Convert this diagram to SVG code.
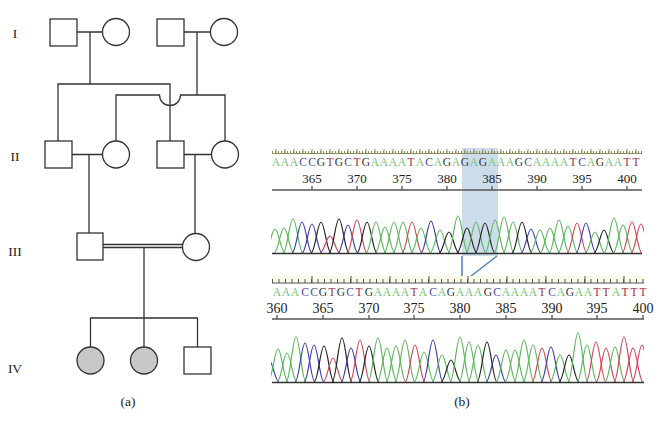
<svg xmlns="http://www.w3.org/2000/svg" xmlns:xlink="http://www.w3.org/1999/xlink" width="660" height="430" viewBox="0 0 660 430">
<style>
.n{fill:#fff;stroke:#333;stroke-width:1.3}
.aff{fill:#c8c8c8;stroke:#333;stroke-width:1.3}
.ln{fill:none;stroke:#333;stroke-width:1.3}
.lbl{font-family:"Liberation Serif",serif;font-size:13.5px;fill:#222;text-anchor:middle}
.seq{font-family:"Liberation Serif",serif;font-size:11.5px;text-anchor:middle}
.num{font-family:"Liberation Serif",serif;fill:#222;text-anchor:middle}
.a{fill:#74c274}.c{fill:#4b4ba0}.g{fill:#333}.t{fill:#a0304a}
use{stroke-width:1.2}
.pA{stroke:#5cb85c}.pC{stroke:#3c3cb4}.pG{stroke:#222}.pT{stroke:#d04858}
</style>
<defs>
<path id="pk" d="M-10,0 C-6,0 -3.5,-1 0,-1 S6,0 10,0" fill="none" vector-effect="non-scaling-stroke"/>
<clipPath id="cl"><rect x="271" y="190" width="373" height="200"/></clipPath>
</defs>
<rect width="660" height="430" fill="#fff"/>

<!-- Pedigree connectors -->
<g id="connectors" class="ln">
<path d="M77,32 H102.5 M90,32 V84"/>
<path d="M184,32 H210.5 M197,32 V95"/>
<path d="M58,141 V84 H170 V141"/>
<path d="M116,141 V95 H159.5 A10.5,10.5 0 0 0 180.5,95 H225 V141"/>
<path d="M72,154.5 H102.5 M89,154.5 V233"/>
<path d="M184,154.5 H211.5 M195,154.5 V233.5"/>
<path d="M103,244.5 H183 M103,247.5 H182.8 M144,247.5 V318"/>
<path d="M90.5,347 V318 H197.5 V347 M144,318 V347"/>
</g>

<!-- Pedigree nodes -->
<g id="I-1"><rect class="n" x="50" y="19" width="27" height="27"/></g>
<g id="I-2"><circle class="n" cx="116" cy="32" r="13.5"/></g>
<g id="I-3"><rect class="n" x="157" y="19" width="27" height="27"/></g>
<g id="I-4"><circle class="n" cx="224" cy="32" r="13.5"/></g>
<g id="II-1"><rect class="n" x="45" y="141" width="27" height="27"/></g>
<g id="II-2"><circle class="n" cx="116" cy="154.5" r="13.5"/></g>
<g id="II-3"><rect class="n" x="157" y="141" width="27" height="27"/></g>
<g id="II-4"><circle class="n" cx="225" cy="154.5" r="13.5"/></g>
<g id="III-1"><rect class="n" x="77" y="233" width="26" height="27"/></g>
<g id="III-2"><circle class="n" cx="196" cy="247" r="13.5"/></g>
<g id="IV-1"><circle class="aff" cx="90.5" cy="360.5" r="13.5"/></g>
<g id="IV-2"><circle class="aff" cx="144" cy="360.5" r="13.5"/></g>
<g id="IV-3"><rect class="n" x="184" y="347" width="27" height="27"/></g>

<g id="gen-labels" class="lbl">
<text x="15" y="38">I</text>
<text x="15" y="161">II</text>
<text x="15" y="256">III</text>
<text x="15" y="373">IV</text>
<text x="128" y="406">(a)</text>
<text x="462" y="406">(b)</text>
</g>

<!-- Panel b -->
<g id="panel-b">
<rect x="462" y="148" width="36" height="108" fill="#b7cde3" fill-opacity="0.7"/>

<!-- top ruler -->
<line x1="272" y1="153.5" x2="642" y2="153.5" stroke="#8c8c5a" stroke-width="1"/>
<line x1="272" y1="152" x2="642" y2="152" stroke="#8c8c5a" stroke-width="2" stroke-dasharray="1 2"/>
<line x1="275.5" y1="151" x2="642" y2="151" stroke="#8c8c5a" stroke-width="4" stroke-dasharray="1 8"/>

<text class="seq" y="166"><tspan class="a" x="276 285 294">AAA</tspan><tspan class="c" x="303 312">CC</tspan><tspan class="g" x="321">G</tspan><tspan class="t" x="330">T</tspan><tspan class="g" x="339">G</tspan><tspan class="c" x="348">C</tspan><tspan class="t" x="357">T</tspan><tspan class="g" x="366">G</tspan><tspan class="a" x="375 384 393 402">AAAA</tspan><tspan class="t" x="411">T</tspan><tspan class="a" x="420">A</tspan><tspan class="c" x="429">C</tspan><tspan class="a" x="438">A</tspan><tspan class="g" x="447">G</tspan><tspan class="a" x="456">A</tspan><tspan class="g" x="465">G</tspan><tspan class="a" x="474">A</tspan><tspan class="g" x="483">G</tspan><tspan class="a" x="492 501 510">AAA</tspan><tspan class="g" x="519">G</tspan><tspan class="c" x="528">C</tspan><tspan class="a" x="537 546 555 564">AAAA</tspan><tspan class="t" x="573">T</tspan><tspan class="c" x="582">C</tspan><tspan class="a" x="591">A</tspan><tspan class="g" x="600">G</tspan><tspan class="a" x="609 618">AA</tspan><tspan class="t" x="627 636">TT</tspan></text>

<g class="num" font-size="13">
<text x="312" y="183">365</text><text x="357" y="183">370</text><text x="402" y="183">375</text><text x="447" y="183">380</text><text x="492" y="183">385</text><text x="537" y="183">390</text><text x="582" y="183">395</text><text x="627" y="183">400</text>
</g>
<path d="M272,190 H642 M312,186 V190 M357,186 V190 M402,186 V190 M447,186 V190 M492,186 V190 M537,186 V190 M582,186 V190 M627,186 V190" fill="none" stroke="#555" stroke-width="1.3"/>

<!-- top trace -->
<g clip-path="url(#cl)">
<use href="#pk" class="pA" transform="translate(275 253) scale(1 24)"/>
<use href="#pk" class="pA" transform="translate(284 253) scale(1 25)"/>
<use href="#pk" class="pA" transform="translate(293 253) scale(1 34)"/>
<use href="#pk" class="pC" transform="translate(302 253) scale(1 31)"/>
<use href="#pk" class="pC" transform="translate(312 253) scale(1 29)"/>
<use href="#pk" class="pG" transform="translate(321 253) scale(1 31)"/>
<use href="#pk" class="pT" transform="translate(330 253) scale(1 17)"/>
<use href="#pk" class="pG" transform="translate(339 253) scale(1 34)"/>
<use href="#pk" class="pC" transform="translate(348 253) scale(1 28)"/>
<use href="#pk" class="pT" transform="translate(357 253) scale(1 33)"/>
<use href="#pk" class="pG" transform="translate(367 253) scale(1 31)"/>
<use href="#pk" class="pA" transform="translate(376 253) scale(1 31)"/>
<use href="#pk" class="pA" transform="translate(385 253) scale(1 26)"/>
<use href="#pk" class="pA" transform="translate(394 253) scale(1 31)"/>
<use href="#pk" class="pA" transform="translate(403 253) scale(1 31)"/>
<use href="#pk" class="pT" transform="translate(412 253) scale(1 31)"/>
<use href="#pk" class="pA" transform="translate(421 253) scale(1 25)"/>
<use href="#pk" class="pC" transform="translate(431 253) scale(1 32)"/>
<use href="#pk" class="pA" transform="translate(440 253) scale(1 23)"/>
<use href="#pk" class="pG" transform="translate(449 253) scale(1 21)"/>
<use href="#pk" class="pA" transform="translate(458 253) scale(1 37)"/>
<use href="#pk" class="pG" transform="translate(467 253) scale(1 25)"/>
<use href="#pk" class="pA" transform="translate(476 253) scale(1 31)"/>
<use href="#pk" class="pG" transform="translate(485 253) scale(1 30)"/>
<use href="#pk" class="pA" transform="translate(495 253) scale(1 33)"/>
<use href="#pk" class="pA" transform="translate(504 253) scale(1 36)"/>
<use href="#pk" class="pA" transform="translate(513 253) scale(1 31)"/>
<use href="#pk" class="pG" transform="translate(522 253) scale(1 31)"/>
<use href="#pk" class="pC" transform="translate(531 253) scale(1 24)"/>
<use href="#pk" class="pA" transform="translate(540 253) scale(1 23)"/>
<use href="#pk" class="pA" transform="translate(550 253) scale(1 25)"/>
<use href="#pk" class="pA" transform="translate(559 253) scale(1 33)"/>
<use href="#pk" class="pA" transform="translate(568 253) scale(1 27)"/>
<use href="#pk" class="pT" transform="translate(577 253) scale(1 30)"/>
<use href="#pk" class="pC" transform="translate(586 253) scale(1 30)"/>
<use href="#pk" class="pA" transform="translate(595 253) scale(1 21)"/>
<use href="#pk" class="pG" transform="translate(604 253) scale(1 23)"/>
<use href="#pk" class="pA" transform="translate(614 253) scale(1 35)"/>
<use href="#pk" class="pA" transform="translate(623 253) scale(1 28)"/>
<use href="#pk" class="pT" transform="translate(632 253) scale(1 31)"/>
<use href="#pk" class="pT" transform="translate(641 253) scale(1 29)"/>
</g>
<line x1="272" y1="253.5" x2="642" y2="253.5" stroke="#333" stroke-width="1.6"/>

<!-- deletion connector -->
<path d="M462,256 V283 M497,256 L462,283" fill="none" stroke="#4a7fc0" stroke-width="1.5"/>

<!-- bottom ruler -->
<rect x="272" y="276" width="372" height="7" fill="#fcfae8"/>
<line x1="272" y1="283" x2="644" y2="283" stroke="#555" stroke-width="1"/>
<line x1="272" y1="281" x2="644" y2="281" stroke="#555" stroke-width="4" stroke-dasharray="1 5.5"/>
<line x1="311.5" y1="279.5" x2="644" y2="279.5" stroke="#555" stroke-width="7" stroke-dasharray="1 38"/>

<text class="seq" y="296"><tspan class="a" x="277 286 295">AAA</tspan><tspan class="c" x="305 314">CC</tspan><tspan class="g" x="323">G</tspan><tspan class="t" x="332">T</tspan><tspan class="g" x="341">G</tspan><tspan class="c" x="350">C</tspan><tspan class="t" x="359">T</tspan><tspan class="g" x="369">G</tspan><tspan class="a" x="378 387 396 405">AAAA</tspan><tspan class="t" x="414">T</tspan><tspan class="a" x="423">A</tspan><tspan class="c" x="433">C</tspan><tspan class="a" x="442">A</tspan><tspan class="g" x="451">G</tspan><tspan class="a" x="460 469 478">AAA</tspan><tspan class="g" x="488">G</tspan><tspan class="c" x="497">C</tspan><tspan class="a" x="506 515 524 533">AAAA</tspan><tspan class="t" x="542">T</tspan><tspan class="c" x="552">C</tspan><tspan class="a" x="561">A</tspan><tspan class="g" x="570">G</tspan><tspan class="a" x="579 588">AA</tspan><tspan class="t" x="597 606">TT</tspan><tspan class="a" x="616">A</tspan><tspan class="t" x="625 634 643">TTT</tspan></text>

<g class="num" font-size="14">
<text x="277" y="313">360</text><text x="323" y="313">365</text><text x="369" y="313">370</text><text x="414" y="313">375</text><text x="460" y="313">380</text><text x="506" y="313">385</text><text x="552" y="313">390</text><text x="597" y="313">395</text><text x="643" y="313">400</text>
</g>
<path d="M272,319 H644 M277,315 V319 M323,315 V319 M369,315 V319 M414,315 V319 M460,315 V319 M506,315 V319 M552,315 V319 M597,315 V319 M643,315 V319" fill="none" stroke="#555" stroke-width="1.3"/>

<!-- bottom trace -->
<g clip-path="url(#cl)">
<use href="#pk" class="pC" transform="translate(269 382) scale(1 22)"/>
<use href="#pk" class="pA" transform="translate(278 382) scale(1 33)"/>
<use href="#pk" class="pA" transform="translate(287 382) scale(1 29)"/>
<use href="#pk" class="pA" transform="translate(296 382) scale(1 45)"/>
<use href="#pk" class="pC" transform="translate(305 382) scale(1 39)"/>
<use href="#pk" class="pC" transform="translate(314 382) scale(1 37)"/>
<use href="#pk" class="pG" transform="translate(324 382) scale(1 36)"/>
<use href="#pk" class="pT" transform="translate(333 382) scale(1 24)"/>
<use href="#pk" class="pG" transform="translate(342 382) scale(1 44)"/>
<use href="#pk" class="pC" transform="translate(351 382) scale(1 34)"/>
<use href="#pk" class="pT" transform="translate(360 382) scale(1 42)"/>
<use href="#pk" class="pG" transform="translate(369 382) scale(1 36)"/>
<use href="#pk" class="pA" transform="translate(378 382) scale(1 44)"/>
<use href="#pk" class="pA" transform="translate(387 382) scale(1 34)"/>
<use href="#pk" class="pA" transform="translate(396 382) scale(1 36)"/>
<use href="#pk" class="pA" transform="translate(405 382) scale(1 42)"/>
<use href="#pk" class="pT" transform="translate(415 382) scale(1 37)"/>
<use href="#pk" class="pA" transform="translate(424 382) scale(1 30)"/>
<use href="#pk" class="pC" transform="translate(433 382) scale(1 42)"/>
<use href="#pk" class="pA" transform="translate(442 382) scale(1 27)"/>
<use href="#pk" class="pG" transform="translate(451 382) scale(1 22)"/>
<use href="#pk" class="pA" transform="translate(460 382) scale(1 45)"/>
<use href="#pk" class="pA" transform="translate(469 382) scale(1 40)"/>
<use href="#pk" class="pA" transform="translate(478 382) scale(1 37)"/>
<use href="#pk" class="pG" transform="translate(487 382) scale(1 40)"/>
<use href="#pk" class="pC" transform="translate(496 382) scale(1 27)"/>
<use href="#pk" class="pA" transform="translate(506 382) scale(1 32)"/>
<use href="#pk" class="pA" transform="translate(515 382) scale(1 32)"/>
<use href="#pk" class="pA" transform="translate(524 382) scale(1 42)"/>
<use href="#pk" class="pA" transform="translate(533 382) scale(1 37)"/>
<use href="#pk" class="pT" transform="translate(542 382) scale(1 34)"/>
<use href="#pk" class="pC" transform="translate(551 382) scale(1 35)"/>
<use href="#pk" class="pA" transform="translate(560 382) scale(1 27)"/>
<use href="#pk" class="pG" transform="translate(569 382) scale(1 27)"/>
<use href="#pk" class="pA" transform="translate(578 382) scale(1 49)"/>
<use href="#pk" class="pA" transform="translate(587 382) scale(1 37)"/>
<use href="#pk" class="pT" transform="translate(596 382) scale(1 40)"/>
<use href="#pk" class="pT" transform="translate(606 382) scale(1 34)"/>
<use href="#pk" class="pA" transform="translate(615 382) scale(1 35)"/>
<use href="#pk" class="pT" transform="translate(624 382) scale(1 45)"/>
<use href="#pk" class="pT" transform="translate(633 382) scale(1 34)"/>
<use href="#pk" class="pT" transform="translate(642 382) scale(1 37)"/>
</g>
<line x1="272" y1="382.5" x2="644" y2="382.5" stroke="#333" stroke-width="1.6"/>
</g>
</svg>
